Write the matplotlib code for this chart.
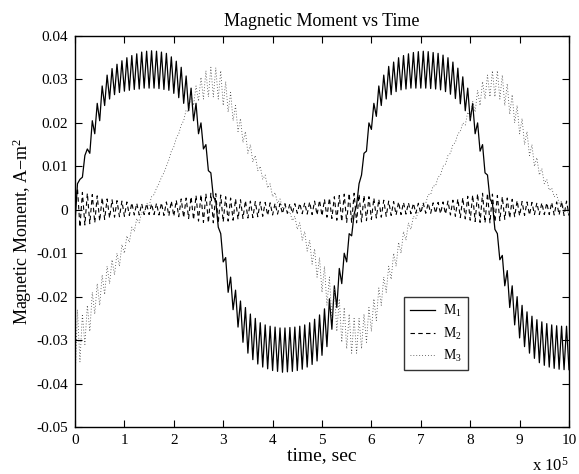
import numpy as np
import matplotlib
matplotlib.use("Agg")
import matplotlib.pyplot as plt

plt.rcParams["font.family"] = ["Liberation Serif", "DejaVu Serif"]
plt.rcParams["mathtext.fontset"] = "custom"
plt.rcParams["mathtext.rm"] = "Liberation Serif"
plt.rcParams["mathtext.it"] = "Liberation Serif:italic"
plt.rcParams["axes.unicode_minus"] = False

# samples every 5000 s (ripple peaks / troughs), values in 1e-3 A-m^2
dt = 5000.0

m1 = [
    -3, 6, 7, 7.5, 12.5, 14, 13, 20.5, 17.5, 24.5,
    20.5, 28.5, 24, 31, 25.5, 32.5, 26.5, 33.5, 27, 34.3,
    27.3, 35, 27.5, 35.5, 27.7, 35.9, 27.8, 36.3, 28, 36.5,
    28, 36.6, 28, 36.5, 27.9, 36.3, 27.7, 36, 27.5, 35.2,
    26.8, 34.2, 25.8, 32.8, 24.5, 30.8, 22.8, 28, 20.5, 24.5,
    17.5, 20, 14, 15, 9, 8.5, 3, 2, -4, -5.5,
    -12, -11, -19, -15.5, -23, -18.5, -27, -21, -30.5, -22.5,
    -33, -24, -34.5, -25, -35.5, -26, -36.2, -26.5, -36.6, -26.8,
    -37, -27, -37.2, -27.2, -37.4, -27.2, -37.3, -27.1, -37.2, -27,
    -37, -26.8, -36.7, -26.5, -36.2, -26, -35.6, -25.2, -34.8, -24.2,
    -33.5, -22.8, -31.5, -20.5, -27.5, -17.5, -22.5, -13.5, -17, -10,
    -12, -5.5, -6, -1, 1, 6, 8, 13, 13.5, 20,
    18.5, 24.5, 21.5, 28.5, 24, 31, 25.5, 33, 26.5, 34,
    27.2, 35, 27.6, 35.5, 27.8, 35.9, 28, 36.2, 28, 36.4,
    28, 36.5, 28, 36.4, 27.9, 36.2, 27.8, 36, 27.6, 35.6,
    27.2, 35, 26.6, 34, 25.6, 32.6, 24.4, 30.6, 22.8, 28,
    20.5, 24.5, 17.5, 20, 13.5, 15, 8.5, 8, 2.5, 1.5,
    -4.5, -5.5, -11.5, -10.5, -17.5, -14, -22.5, -17.5, -26.5, -20,
    -29.5, -22, -31.5, -23.5, -33, -24.5, -34.2, -25.3, -35.2, -25.8,
    -35.8, -26.2, -36.2, -26.5, -36.5, -26.7, -36.7, -26.8, -36.8, -26.8,
    -36.8,
]

m2 = [
    0, 5, -4, 4, -3.5, 3.8, -3.2, 3.5, -3, 3.2,
    -2.6, 2.8, -2.2, 2.5, -1.9, 2.3, -1.7, 2.1, -1.6, 2,
    -1.5, 1.8, -1.3, 1.6, -1.2, 1.5, -1.2, 1.4, -1.1, 1.4,
    -1.1, 1.4, -1.1, 1.5, -1.2, 1.6, -1.3, 1.8, -1.4, 2,
    -1.5, 2.2, -1.6, 2.5, -1.8, 2.7, -2, 3, -2.3, 3.3,
    -2.6, 3.5, -2.9, 3.7, -3, 3.8, -3, 3.7, -3, 3.4,
    -2.8, 3, -2.6, 2.7, -2.4, 2.5, -2.2, 2.3, -2, 2.1,
    -1.9, 2, -1.8, 1.9, -1.6, 1.8, -1.5, 1.7, -1.3, 1.6,
    -1.2, 1.5, -1, 1.4, -0.9, 1.4, -0.8, 1.4, -0.8, 1.4,
    -0.8, 1.5, -0.9, 1.6, -1, 1.8, -1.1, 2, -1.2, 2.2,
    -1.4, 2.4, -1.7, 2.7, -2, 3, -2.4, 3.3, -2.7, 3.6,
    -2.9, 3.8, -3, 3.8, -3, 3.6, -2.8, 3.3, -2.5, 3,
    -2.2, 2.7, -1.9, 2.4, -1.7, 2.2, -1.5, 2, -1.3, 1.9,
    -1.2, 1.8, -1.1, 1.7, -1, 1.6, -0.9, 1.5, -0.8, 1.5,
    -0.8, 1.5, -0.8, 1.5, -0.8, 1.6, -0.8, 1.7, -0.9, 1.8,
    -1, 2, -1.2, 2.2, -1.5, 2.5, -1.8, 2.8, -2.1, 3.1,
    -2.4, 3.4, -2.7, 3.7, -2.9, 3.8, -3, 3.8, -3, 3.6,
    -2.8, 3.3, -2.5, 3, -2.2, 2.7, -1.9, 2.4, -1.6, 2.1,
    -1.4, 1.9, -1.3, 1.8, -1.2, 1.7, -1.1, 1.6, -1.1, 1.6,
    -1.1, 1.6, -1.1, 1.7, -1.2, 1.8, -1.2, 1.9, -1.3, 2,
    -1.3,
]

m3 = [
    -40, -23, -35, -24, -31, -22, -28, -19, -24, -17,
    -22, -15, -19.5, -13, -17, -11.5, -15, -10, -13, -8,
    -10, -6, -7.5, -4, -5, -2, -3, -0.5, -1, 1.5,
    1, 3, 3.5, 5, 6, 7.5, 8.5, 10, 11.5, 13.5,
    14.5, 16.5, 17.5, 19.5, 20.5, 23, 22.5, 26.5, 24, 28.5,
    25, 30.5, 25.5, 32, 26, 32.8, 26, 32.7, 25.5, 32,
    24, 29.5, 22.5, 27, 20.5, 24, 18, 21, 15.5, 18,
    13, 15, 11, 12.5, 9, 10, 7, 8, 5, 6,
    3, 4, 1.5, 2.5, 0.5, 1, -1, -0.5, -2.5, -1.5,
    -4.5, -3, -7, -5, -9.5, -7, -12.5, -9, -15.5, -11,
    -19, -13, -22, -15.5, -25, -18, -28, -20.5, -30.5, -22.5,
    -32, -24, -33, -25, -33, -25, -32, -24, -30.5, -22.5,
    -28, -20.5, -25.5, -18, -22, -15.5, -19, -13, -16, -10,
    -13, -7.5, -10, -5, -7, -3, -4.5, -1.5, -2, -0.5,
    0, 1.5, 1.5, 3.5, 3.5, 5.5, 5.5, 7.5, 8, 10,
    10.5, 12.5, 13, 15, 15.5, 17.5, 18, 20, 19.5, 22.5,
    21, 25, 22.5, 27.5, 24, 29.5, 25.5, 31, 26, 32,
    26, 32, 25.5, 31, 24, 29, 22, 26.5, 20, 24,
    17.5, 21, 15, 18, 12.5, 15, 10, 12, 8, 9.5,
    6, 7, 4.5, 5, 3, 3.5, 1.5, 2, 0, 0.5,
    -1.5,
]

x_ticks = [0, 1e5, 2e5, 3e5, 4e5, 5e5, 6e5, 7e5, 8e5, 9e5, 10e5]
x_tick_labels = ["0", "1", "2", "3", "4", "5", "6", "7", "8", "9", "10"]
y_ticks = [-0.05, -0.04, -0.03, -0.02, -0.01, 0, 0.01, 0.02, 0.03, 0.04]
y_tick_labels = ["-0.05", "-0.04", "-0.03", "-0.02", "-0.01", "0", "0.01", "0.02", "0.03", "0.04"]

t = np.arange(len(m1)) * dt

fig = plt.figure(figsize=(5.79, 4.74), dpi=100)
ax = fig.add_axes([75 / 579, 47 / 474, 494 / 579, 391 / 474])

ax.plot(t, np.array(m1) * 1e-3, color="black", linewidth=0.9, label="M$_1$")
ax.plot(t, np.array(m2) * 1e-3, color="black", linewidth=0.8, linestyle=(0, (4, 3)), label="M$_2$")
ax.plot(t, np.array(m3) * 1e-3, color="0.25", linewidth=0.6, linestyle=(0, (1, 2.5)), label="M$_3$")

ax.set_xlim(0, 10e5)
ax.set_ylim(-0.05, 0.04)
ax.set_xticks(x_ticks)
ax.set_xticklabels(x_tick_labels)
ax.set_yticks(y_ticks)
ax.set_yticklabels(y_tick_labels)
ax.tick_params(direction="in", length=5, width=0.8, top=True, right=True, labelsize=11, pad=5)
for s in ax.spines.values():
    s.set_linewidth(1.0)

ax.set_title("Magnetic Moment vs Time", fontsize=13, pad=7)
ax.set_xlabel("time, sec", fontsize=14, labelpad=0)
ax.set_ylabel("Magnetic Moment, A$-$m$^2$", fontsize=13, labelpad=2)
ax.text(1.0, -0.075, "x 10$^5$", transform=ax.transAxes, ha="right", va="top", fontsize=12)

leg = ax.legend(loc="upper left", bbox_to_anchor=(0.666, 0.3325), fontsize=10,
                frameon=True, fancybox=False, handlelength=1.75, handletextpad=0.6,
                borderpad=0.45, labelspacing=0.45, borderaxespad=0)
leg.get_frame().set_edgecolor("black")
leg.get_frame().set_linewidth(1.0)

fig.savefig("out.png", dpi=100)
